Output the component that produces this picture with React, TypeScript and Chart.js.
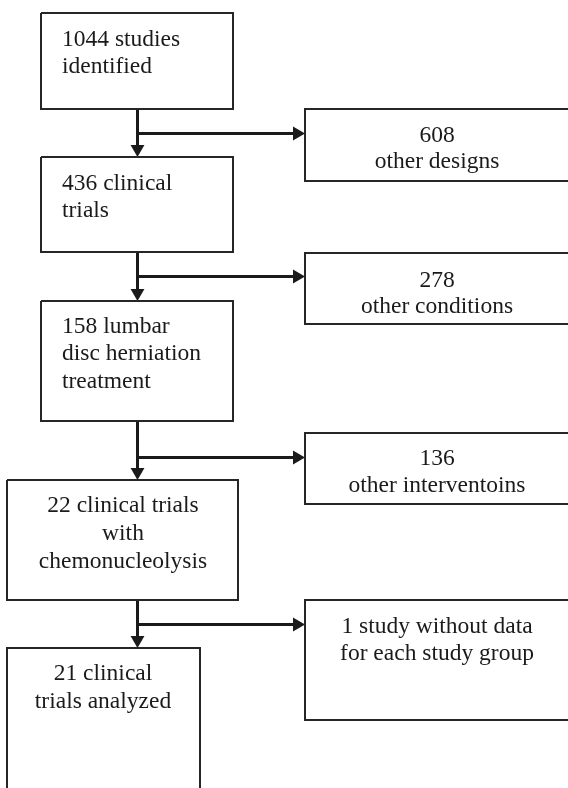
import React, { useEffect, useRef } from "react";
import { Chart, registerables } from "chart.js";

Chart.register(...registerables);

// ---- content ----
const stageCounts = [1044, 436, 158, 22, 21];
const stageTexts = [
  ["studies", "identified"],
  ["clinical", "trials"],
  ["lumbar", "disc herniation", "treatment"],
  ["clinical trials", "with", "chemonucleolysis"],
  ["clinical", "trials analyzed"],
];
const excludedCounts = [608, 278, 136, 1];
const excludedTexts = [
  ["other designs"],
  ["other conditions"],
  ["other interventoins"],
  ["study without data", "for each study group"],
];

// ---- layout (pixel-like data coordinates) ----
const W = 568;
const H = 788;
const stageBoxes = [
  { x0: 41, x1: 233, y0: 13, y1: 109, align: "left", tx: 62, base: [46, 73] },
  { x0: 41, x1: 233, y0: 157, y1: 252, align: "left", tx: 62, base: [190, 217] },
  { x0: 41, x1: 233, y0: 301, y1: 421, align: "left", tx: 62, base: [333, 360, 388] },
  { x0: 7, x1: 238, y0: 480, y1: 600, align: "center", tx: 123, base: [512, 540, 568] },
  { x0: 7, x1: 200, y0: 648, y1: 820, align: "center", tx: 103, base: [680, 708], open: true },
];
const sideBoxes = [
  { x0: 305, y0: 109, y1: 181, base: [142, 168] },
  { x0: 305, y0: 253, y1: 324, base: [287, 313] },
  { x0: 305, y0: 433, y1: 504, base: [465, 492] },
  { x0: 305, y0: 600, y1: 720, base: [633, 660] },
];
const sideTextX = 437;
const stemX = 137.5;
const branchY = [133.5, 276.5, 457.5, 624.5];
const HEAD_R = 8;

function buildLabels() {
  const s = stageTexts.map((t, i) => {
    const first = `${stageCounts[i]} ${t[0]}`;
    return [first, ...t.slice(1)];
  });
  const e = excludedTexts.map((t, i) => {
    if (i === 3) return [`${excludedCounts[i]} ${t[0]}`, ...t.slice(1)];
    return [String(excludedCounts[i]), ...t];
  });
  return { s, e };
}

export default function App() {
  const ref = useRef<HTMLCanvasElement>(null);

  useEffect(() => {
    if (!ref.current) return;
    const { s, e } = buildLabels();
    const datasets: any[] = [];
    const boxStyle = { borderColor: "#262626", borderWidth: 2 };
    const arrowStyle = { borderColor: "#1a1a1a", borderWidth: 3 };

    stageBoxes.forEach((b) => {
      const pts = b.open
        ? [
            { x: b.x0, y: b.y1 },
            { x: b.x0, y: b.y0 },
            { x: b.x1, y: b.y0 },
            { x: b.x1, y: b.y1 },
          ]
        : [
            { x: b.x0, y: b.y0 },
            { x: b.x1, y: b.y0 },
            { x: b.x1, y: b.y1 },
            { x: b.x0, y: b.y1 },
            { x: b.x0, y: b.y0 },
          ];
      datasets.push({ type: "scatter", data: pts, showLine: true, pointRadius: 0, ...boxStyle });
    });
    sideBoxes.forEach((b) => {
      datasets.push({
        type: "scatter",
        data: [
          { x: 640, y: b.y0 },
          { x: b.x0, y: b.y0 },
          { x: b.x0, y: b.y1 },
          { x: 640, y: b.y1 },
        ],
        showLine: true,
        pointRadius: 0,
        ...boxStyle,
      });
    });

    const heads: any[] = [];
    const rots: number[] = [];
    for (let i = 0; i < 4; i++) {
      const top = stageBoxes[i].y1;
      const nextTop = stageBoxes[i + 1].y0;
      datasets.push({
        type: "scatter",
        data: [
          { x: stemX, y: top },
          { x: stemX, y: nextTop - HEAD_R },
        ],
        showLine: true,
        pointRadius: 0,
        ...arrowStyle,
      });
      datasets.push({
        type: "scatter",
        data: [
          { x: stemX, y: branchY[i] },
          { x: sideBoxes[i].x0 - HEAD_R, y: branchY[i] },
        ],
        showLine: true,
        pointRadius: 0,
        ...arrowStyle,
      });
      heads.push({ x: stemX, y: nextTop - HEAD_R });
      rots.push(180);
      heads.push({ x: sideBoxes[i].x0 - HEAD_R, y: branchY[i] });
      rots.push(90);
    }
    datasets.push({
      type: "scatter",
      data: heads,
      pointStyle: "triangle",
      pointRadius: HEAD_R,
      rotation: rots,
      backgroundColor: "#1a1a1a",
      borderColor: "#1a1a1a",
      borderWidth: 0,
      showLine: false,
    });

    const textPlugin = {
      id: "boxText",
      afterDatasetsDraw(chart: any) {
        const ctx = chart.ctx;
        const xs = chart.scales.x;
        const ys = chart.scales.y;
        ctx.save();
        ctx.fillStyle = "#1a1a1a";
        ctx.font = '23.5px "Liberation Serif", "Times New Roman", serif';
        ctx.textBaseline = "alphabetic";
        stageBoxes.forEach((b, i) => {
          ctx.textAlign = b.align;
          s[i].forEach((line, j) => {
            ctx.fillText(line, xs.getPixelForValue(b.tx), ys.getPixelForValue(b.base[j]));
          });
        });
        ctx.textAlign = "center";
        sideBoxes.forEach((b, i) => {
          e[i].forEach((line, j) => {
            ctx.fillText(line, xs.getPixelForValue(sideTextX), ys.getPixelForValue(b.base[j]));
          });
        });
        ctx.restore();
      },
    };

    const chart = new Chart(ref.current, {
      type: "scatter",
      data: { datasets },
      options: {
        animation: false,
        responsive: false,
        devicePixelRatio: 1,
        layout: { padding: 0, autoPadding: false },
        plugins: { legend: { display: false }, tooltip: { enabled: false } },
        scales: {
          x: { type: "linear", min: 0, max: W, display: false },
          y: { type: "linear", min: 0, max: H, reverse: true, display: false },
        },
      },
      plugins: [textPlugin],
    } as any);
    return () => chart.destroy();
  }, []);

  return (
    <div style={{ position: "fixed", left: 0, top: 0, width: W, height: H, background: "#fff" }}>
      <canvas ref={ref} width={W} height={H} style={{ width: W, height: H, display: "block" }} />
    </div>
  );
}
